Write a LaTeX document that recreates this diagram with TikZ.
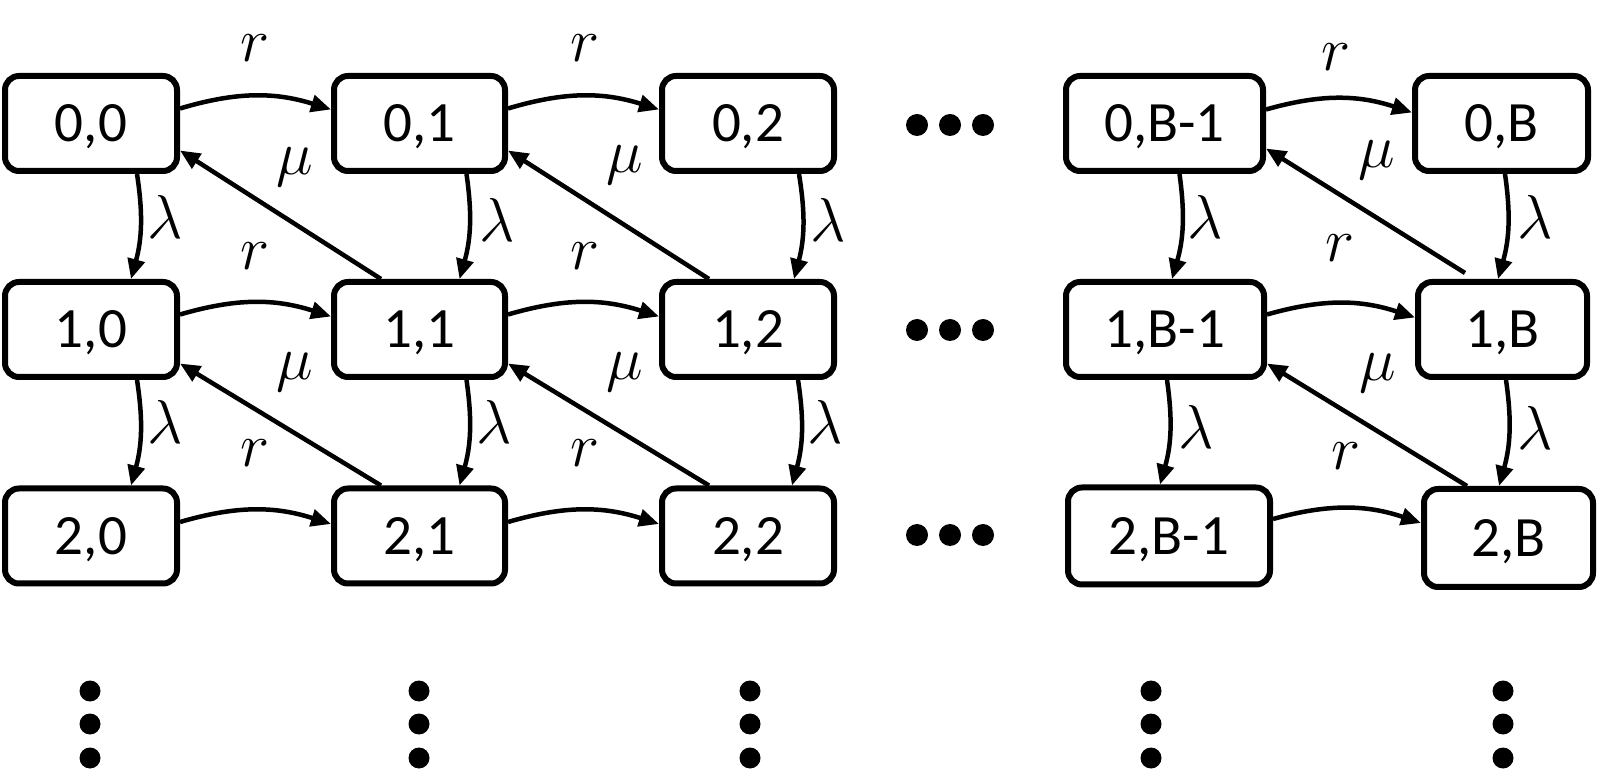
\RequirePackage{fix-cm}
\documentclass[tikz,border=0pt]{standalone}
\usepackage{fontspec}
\newfontfamily\statefont{Carlito}
\usetikzlibrary{arrows.meta}
\begin{document}
\begin{tikzpicture}[x=1pt,y=1pt,
  state/.style={draw, line width=6pt, rounded corners=14pt, minimum height=95pt,
    inner sep=0pt, text depth=0pt, font=\statefont\fontsize{57}{60}\selectfont},
  arr/.style={line width=4.5pt, -{Triangle[length=20pt,width=17pt]}},
  lab/.style={inner sep=0pt, font=\fontsize{62}{66}\selectfont},
  bigdot/.style={fill=black}]
\useasboundingbox (0,0) rectangle (1599,769);

% states
\node[state, minimum width=172pt] (n00) at (91,645.5) {0,0};
\node[state, minimum width=171pt] (n01) at (419.5,645.5) {0,1};
\node[state, minimum width=172pt] (n02) at (748,645.5) {0,2};
\node[state, minimum width=197pt] (n0a) at (1164.5,645.5) {0,B-1};
\node[state, minimum width=173pt] (n0b) at (1501.5,645.5) {0,B};

\node[state, minimum width=172pt] (n10) at (91,439.5) {1,0};
\node[state, minimum width=171pt] (n11) at (419.5,439.5) {1,1};
\node[state, minimum width=172pt] (n12) at (748,439.5) {1,2};
\node[state, minimum width=198pt] (n1a) at (1165,439.5) {1,B-1};
\node[state, minimum width=169pt] (n1b) at (1502.5,439.5) {1,B};

\node[state, minimum width=172pt] (n20) at (91,233) {2,0};
\node[state, minimum width=171pt] (n21) at (419.5,233) {2,1};
\node[state, minimum width=172pt] (n22) at (748,233) {2,2};
\node[state, minimum width=202pt, minimum height=97pt] (n2a) at (1169,233) {2,B-1};
\node[state, minimum width=169pt, minimum height=98pt] (n2b) at (1508.5,231) {2,B};

% r arrows
\draw[arr] ([yshift=15pt]n00.east) to[bend left=17] ([yshift=14pt]n01.west);
\draw[arr] ([yshift=15pt]n01.east) to[bend left=17] ([yshift=14pt]n02.west);
\draw[arr] ([yshift=14pt]n0a.east) to[bend left=17] ([yshift=11pt]n0b.west);
\draw[arr] ([yshift=15pt]n10.east) to[bend left=17] ([yshift=13pt]n11.west);
\draw[arr] ([yshift=15pt]n11.east) to[bend left=17] ([yshift=13pt]n12.west);
\draw[arr] ([yshift=15pt]n1a.east) to[bend left=17] ([yshift=12pt]n1b.west);
\draw[arr] ([yshift=14pt]n20.east) to[bend left=17] ([yshift=12pt]n21.west);
\draw[arr] ([yshift=14pt]n21.east) to[bend left=17] ([yshift=12pt]n22.west);
\draw[arr] ([yshift=17pt]n2a.east) to[bend left=17] ([yshift=15pt]n2b.west);

% lambda arrows
\draw[arr] ([xshift=46pt]n00.south) to[bend left=12] ([xshift=40pt]n10.north);
\draw[arr] ([xshift=47pt]n01.south) to[bend left=12] ([xshift=40pt]n11.north);
\draw[arr] ([xshift=51pt]n02.south) to[bend left=12] ([xshift=46pt]n12.north);
\draw[arr] ([xshift=15pt]n0a.south) to[bend left=12] ([xshift=7pt]n1a.north);
\draw[arr] ([xshift=3.5pt]n0b.south) to[bend left=12] ([xshift=-4.5pt]n1b.north);
\draw[arr] ([xshift=46pt]n10.south) to[bend left=12] ([xshift=40pt]n20.north);
\draw[arr] ([xshift=47pt]n11.south) to[bend left=12] ([xshift=40pt]n21.north);
\draw[arr] ([xshift=50pt]n12.south) to[bend left=12] ([xshift=44pt]n22.north);
\draw[arr] ([xshift=2pt]n1a.south) to[bend left=12] ([xshift=-9pt]n2a.north);
\draw[arr] ([xshift=3.5pt]n1b.south) to[bend left=12] ([xshift=-9.5pt]n2b.north);

% mu arrows
\draw[arr] ([xshift=50pt]n11.north west) -- ([yshift=-27pt]n00.east);
\draw[arr] ([xshift=50pt]n12.north west) -- ([yshift=-27pt]n01.east);
\draw[arr] ([xshift=50pt,yshift=6pt]n1b.north west) -- ([yshift=-25pt]n0a.east);
\draw[arr] ([xshift=50pt]n21.north west) -- ([yshift=-34pt]n10.east);
\draw[arr] ([xshift=50pt]n22.north west) -- ([yshift=-34pt]n11.east);
\draw[arr] ([xshift=46pt]n2b.north west) -- ([yshift=-34pt]n1a.east);

% labels r
\node[lab] (r00) at (255,721) {$r$};
\node[lab] (r01) at (585,721) {$r$};
\node[lab] (r0a) at (1336,712) {$r$};
\node[lab] (r10) at (255,513) {$r$};
\node[lab] (r11) at (585,513) {$r$};
\node[lab] (r1a) at (1340,521) {$r$};
\node[lab] (r20) at (255,316) {$r$};
\node[lab] (r21) at (585,316) {$r$};
\node[lab] (r2a) at (1346,313) {$r$};
% labels mu
\node[lab] (m00) at (295,602) {$\mu$};
\node[lab] (m01) at (625,604) {$\mu$};
\node[lab] (m0a) at (1377,609) {$\mu$};
\node[lab] (m10) at (295,397) {$\mu$};
\node[lab] (m11) at (625,397) {$\mu$};
\node[lab] (m1a) at (1378,396) {$\mu$};
% labels lambda
\node[lab] (l00) at (165,552) {$\lambda$};
\node[lab] (l01) at (497,549) {$\lambda$};
\node[lab] (l02) at (828,549) {$\lambda$};
\node[lab] (l0a) at (1205,552) {$\lambda$};
\node[lab] (l0b) at (1535,552) {$\lambda$};
\node[lab] (l10) at (165,347) {$\lambda$};
\node[lab] (l11) at (494,347) {$\lambda$};
\node[lab] (l12) at (825,347) {$\lambda$};
\node[lab] (l1a) at (1196,342) {$\lambda$};
\node[lab] (l1b) at (1535,341) {$\lambda$};

% horizontal ellipses
\foreach \yy in {644,439,234}{
  \foreach \xx in {917,950,983}{\fill[bigdot] (\xx,\yy) circle (11);}
}
% vertical ellipses
\foreach \xx in {90,419,750,1151,1503}{
  \foreach \yy in {78,45,11}{\fill[bigdot] (\xx,\yy) circle (10.5);}
}
\end{tikzpicture}
\end{document}
